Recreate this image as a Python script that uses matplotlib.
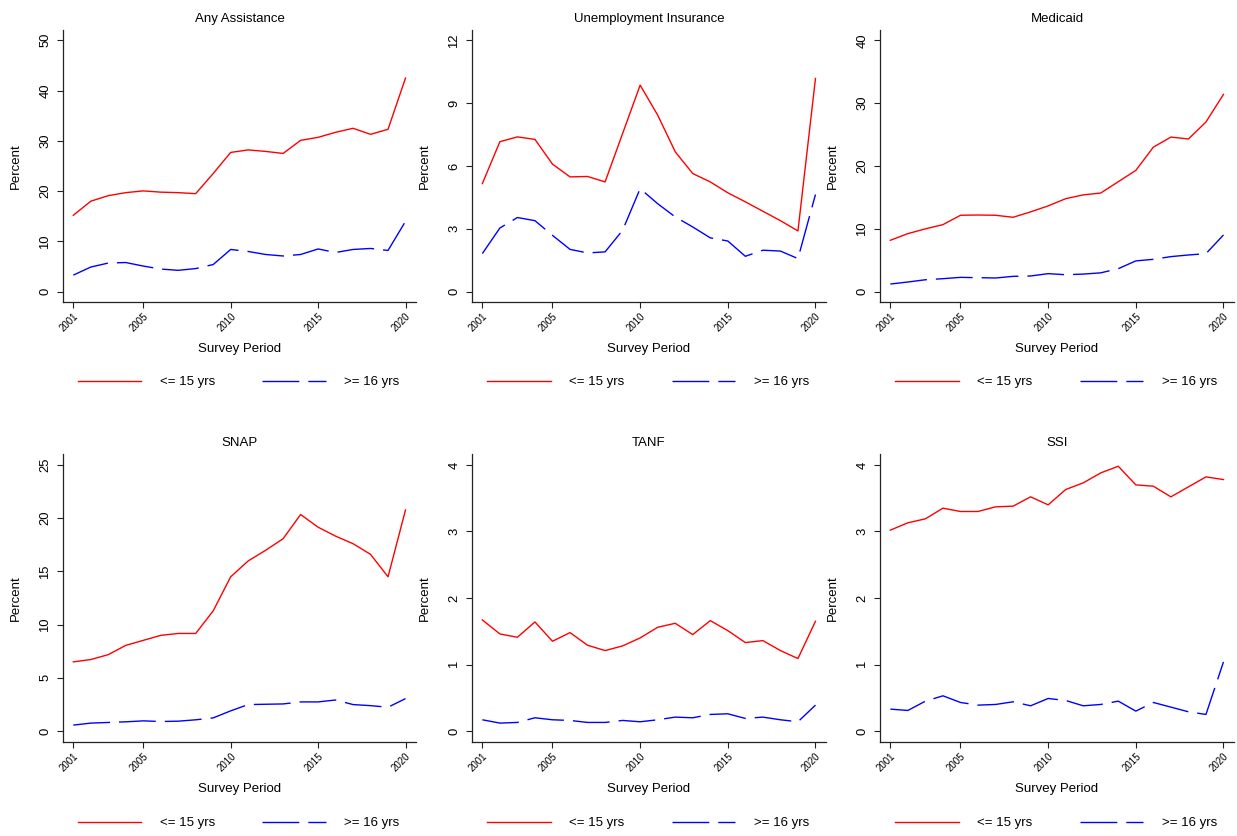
import matplotlib.pyplot as plt
import numpy as np
from matplotlib.lines import Line2D

plt.rcParams['font.family'] = ['Liberation Sans', 'DejaVu Sans']
plt.rcParams['lines.scale_dashes'] = False

years = np.arange(2001, 2021)

titles = ['Any Assistance', 'Unemployment Insurance', 'Medicaid',
          'SNAP', 'TANF', 'SSI']
ytop = [50, 12, 40, 25, 4, 4]
ystep = [10, 3, 10, 5, 1, 1]

# <= 15 yrs
young_any = [15.2, 18.0, 19.1, 19.7, 20.05, 19.8, 19.7, 19.5, 23.5, 27.7,
             28.2, 27.9, 27.5, 30.1, 30.7, 31.7, 32.5, 31.3, 32.3, 42.5]
young_ui = [5.16, 7.16, 7.39, 7.27, 6.09, 5.48, 5.5, 5.24, 7.55, 9.86,
            8.43, 6.68, 5.64, 5.24, 4.72, 4.29, 3.84, 3.39, 2.9, 10.18]
young_medicaid = [8.18, 9.24, 10.0, 10.67, 12.16, 12.2, 12.16, 11.84, 12.7, 13.65,
                  14.8, 15.4, 15.7, 17.5, 19.3, 23.0, 24.6, 24.3, 27.0, 31.4]
young_snap = [6.5, 6.72, 7.18, 8.05, 8.52, 8.99, 9.17, 9.17, 11.29, 14.49,
              15.98, 16.98, 18.07, 20.34, 19.15, 18.31, 17.6, 16.6, 14.49, 20.77]
young_tanf = [1.67, 1.46, 1.41, 1.64, 1.35, 1.48, 1.29, 1.21, 1.28, 1.4,
              1.56, 1.62, 1.45, 1.66, 1.51, 1.33, 1.36, 1.21, 1.09, 1.65]
young_ssi = [3.02, 3.13, 3.19, 3.35, 3.3, 3.3, 3.37, 3.38, 3.52, 3.4,
             3.63, 3.73, 3.88, 3.98, 3.7, 3.68, 3.52, 3.67, 3.82, 3.78]

# >= 16 yrs
old_any = [3.3, 4.9, 5.7, 5.8, 5.1, 4.5, 4.25, 4.6, 5.4, 8.4,
           8.0, 7.4, 7.1, 7.4, 8.5, 7.8, 8.4, 8.6, 8.2, 14.0]
old_ui = [1.82, 3.04, 3.54, 3.39, 2.69, 2.02, 1.85, 1.9, 2.93, 4.92,
          4.2, 3.57, 3.09, 2.57, 2.42, 1.69, 1.98, 1.94, 1.58, 4.64]
old_medicaid = [1.22, 1.54, 1.9, 2.07, 2.28, 2.23, 2.18, 2.44, 2.5, 2.87,
                2.7, 2.8, 3.0, 3.66, 4.9, 5.15, 5.58, 5.84, 6.05, 9.03]
old_snap = [0.56, 0.75, 0.81, 0.87, 0.96, 0.9, 0.93, 1.06, 1.24, 1.9,
            2.49, 2.52, 2.55, 2.74, 2.74, 2.92, 2.49, 2.39, 2.24, 3.05]
old_tanf = [0.17, 0.12, 0.13, 0.2, 0.17, 0.16, 0.13, 0.13, 0.16, 0.14,
            0.17, 0.21, 0.2, 0.25, 0.26, 0.19, 0.21, 0.17, 0.14, 0.39]
old_ssi = [0.33, 0.31, 0.45, 0.53, 0.43, 0.39, 0.4, 0.44, 0.38, 0.49,
           0.46, 0.38, 0.4, 0.45, 0.3, 0.43, 0.36, 0.29, 0.25, 1.04]

young = [young_any, young_ui, young_medicaid, young_snap, young_tanf, young_ssi]
old = [old_any, old_ui, old_medicaid, old_snap, old_tanf, old_ssi]

W, H = 1237, 836
fig = plt.figure(figsize=(W / 100, H / 100), dpi=100)

# pixel boxes of the plot regions
cols = [(63, 416), (472, 826), (880, 1234)]
rows = [(30, 302), (454, 742)]
legend_y = [382, 823]

dash = (26.5, 6.5)
axcol = '#222222'

for k in range(6):
    r, c = divmod(k, 3)
    x0, x1 = cols[c]
    y0, y1 = rows[r]
    ax = fig.add_axes([x0 / W, 1 - y1 / H, (x1 - x0) / W, (y1 - y0) / H])

    ax.plot(years, young[k], color='red', lw=1.0)
    ax.plot(years, old[k], color='blue', lw=1.0, dashes=dash)

    top = ytop[k]
    m = 0.041 * top
    ax.set_ylim(-m, top + m)
    ax.set_xlim(2000.41, 2020.6)
    ax.set_yticks(np.arange(0, top + ystep[k] / 2, ystep[k]))
    ax.set_xticks([2001, 2005, 2010, 2015, 2020])

    for s in ['top', 'right']:
        ax.spines[s].set_visible(False)
    for s in ['left', 'bottom']:
        ax.spines[s].set_color(axcol)
        ax.spines[s].set_linewidth(0.9)

    ax.tick_params(axis='y', length=4.3, width=0.8, color=axcol, pad=4,
                   labelsize=9.4, labelrotation=90)
    for t in ax.get_yticklabels():
        t.set_va('center')
    ax.tick_params(axis='x', length=4.3, width=0.8, color=axcol, pad=2.5,
                   labelsize=7.0)
    for t in ax.get_xticklabels():
        t.set_rotation(45)
        t.set_ha('right')
        t.set_va('top')
        t.set_rotation_mode('anchor')

    ax.set_title(titles[k], fontsize=9.5, pad=6)
    ax.set_ylabel('Percent', fontsize=9.5, va='center')
    ax.yaxis.set_label_coords(-47 / (x1 - x0), 0.5)
    ax.set_xlabel('Survey Period', fontsize=9.5, va='center')
    ax.xaxis.set_label_coords(0.5, -47 / (y1 - y0))

    h1 = Line2D([], [], color='red', lw=1.0)
    h2 = Line2D([], [], color='blue', lw=1.0, dashes=dash)
    ax.legend([h1, h2], ['<= 15 yrs', '>= 16 yrs'], ncol=2, frameon=False,
              fontsize=9.5, handlelength=4.8, handletextpad=1.4,
              columnspacing=3.6, loc='center',
              bbox_to_anchor=(((x0 + x1) / 2 - 1) / W, 1 - legend_y[r] / H),
              bbox_transform=fig.transFigure, borderpad=0)

fig.savefig('out.png', dpi=100)
